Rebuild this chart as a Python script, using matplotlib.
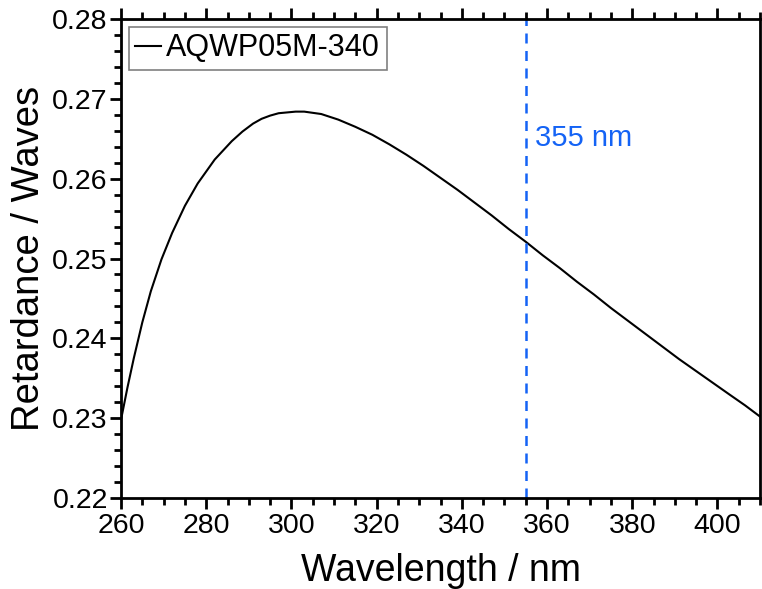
import matplotlib
matplotlib.use("Agg")
import matplotlib.pyplot as plt
from matplotlib.ticker import MultipleLocator

plt.rcParams['font.family'] = ['Liberation Sans', 'DejaVu Sans']

# Retardance curve of the AQWP05M-340 achromatic waveplate
wavelength_nm = [260, 261.5, 263, 265, 267, 269.5, 272, 275, 278, 282, 286,
                 288.5, 291, 293, 295, 297, 299, 301, 303, 307, 311, 315, 319,
                 323, 327, 331, 335, 339, 343, 347, 351, 355, 359, 363, 367,
                 371, 375, 379, 383, 387, 391, 395, 399, 403, 406.5, 410]
retardance_waves = [0.2298, 0.2338, 0.2375, 0.2420, 0.2459, 0.2499, 0.2532,
                    0.2566, 0.2594, 0.2624, 0.2647, 0.2659, 0.2669, 0.2675,
                    0.2679, 0.2682, 0.2683, 0.2684, 0.2684, 0.2681, 0.2674,
                    0.2665, 0.2655, 0.2643, 0.2630, 0.2616, 0.2601, 0.2586,
                    0.2570, 0.2554, 0.2537, 0.2521, 0.2504, 0.2488, 0.2471,
                    0.2455, 0.2438, 0.2422, 0.2406, 0.2390, 0.2374, 0.2359,
                    0.2344, 0.2329, 0.2316, 0.2302]
series_label = "AQWP05M-340"
marker_wavelength = 355
marker_text = "355 nm"

fig = plt.figure(figsize=(7.62, 5.89), dpi=100)
ax = fig.add_axes([0.1588, 0.1545, 0.9974 - 0.1588, 0.9677 - 0.1545])

ax.plot(wavelength_nm, retardance_waves, color='black', lw=1.5,
        label=series_label, solid_joinstyle='round')
ax.axvline(marker_wavelength, color='#1463f5', lw=1.8, ls=(0, (4, 3)))
ax.text(marker_wavelength + 2.1, 0.2651, marker_text, color='#1463f5',
        fontsize=21, va='center', ha='left')

ax.set_xlim(260, 410)
ax.set_ylim(0.22, 0.28)
ax.xaxis.set_major_locator(MultipleLocator(20))
ax.xaxis.set_minor_locator(MultipleLocator(5))
ax.yaxis.set_major_locator(MultipleLocator(0.01))
ax.yaxis.set_minor_locator(MultipleLocator(0.002))
ax.set_yticks(ax.get_yticks())
ax.set_yticklabels([f"{v:.2f}" for v in ax.get_yticks()])
ax.set_ylim(0.22, 0.28)

for s in ax.spines.values():
    s.set_linewidth(2)
ax.tick_params(which='both', direction='out', top=True, right=False,
               width=2, labelsize=20.5)
ax.tick_params(axis='y', pad=1.5)
ax.tick_params(axis='x', pad=3)
ax.tick_params(which='major', length=8)
ax.tick_params(which='minor', length=5)

ax.set_xlabel("Wavelength / nm", fontsize=27, labelpad=10)
ax.set_ylabel("Retardance / Waves", fontsize=27.5, labelpad=4)

leg = ax.legend(loc='upper left', fontsize=22, handlelength=0.85,
                handletextpad=0.15, borderpad=0.22, fancybox=False,
                borderaxespad=0.25, framealpha=1)
leg.get_frame().set_edgecolor('#808080')
leg.get_frame().set_linewidth(1.2)

fig.savefig("out.png", dpi=100)
